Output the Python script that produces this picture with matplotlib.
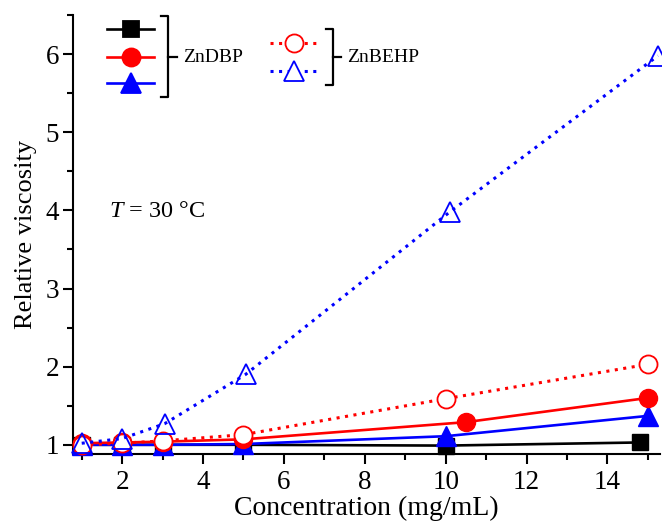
import matplotlib
matplotlib.use('Agg')
import matplotlib.pyplot as plt
from matplotlib.lines import Line2D
from matplotlib.ticker import MultipleLocator

plt.rcParams['font.family'] = ['Liberation Serif', 'DejaVu Serif']
plt.rcParams['mathtext.fontset'] = 'custom'
plt.rcParams['mathtext.it'] = 'Liberation Serif:italic'
plt.rcParams['mathtext.rm'] = 'Liberation Serif'

# ZnDBP series
dbp_sq_x = [1, 2, 3, 5, 10, 14.8]
dbp_sq_y = [1.00, 1.00, 1.00, 1.00, 0.99, 1.03]
dbp_ci_x = [1, 2, 3, 5, 10.5, 15]
dbp_ci_y = [1.02, 1.03, 1.04, 1.07, 1.29, 1.60]
dbp_tr_x = [1, 2, 3, 5, 10, 15]
dbp_tr_y = [1.00, 1.00, 1.00, 1.01, 1.11, 1.37]

# ZnBEHP series
behp_ci_x = [1, 2, 3, 5, 10, 15]
behp_ci_y = [1.00, 1.02, 1.05, 1.13, 1.59, 2.03]
behp_tr_x = [1, 2, 3.05, 5.05, 10.1, 15.25]
behp_tr_y = [1.02, 1.08, 1.27, 1.90, 3.98, 5.98]

fig = plt.figure(figsize=(6.62, 5.21), dpi=100)
ax = fig.add_axes([0.110, 0.129, 0.887, 0.842])

lw = 1.9
dot = (0, (1, 1.8))
ax.plot(dbp_sq_x, dbp_sq_y, color='black', lw=lw, marker='s', ms=11, mfc='black', mec='black', clip_on=False, zorder=3)
ax.plot(dbp_tr_x, dbp_tr_y, color='blue', lw=lw, marker='^', ms=14, mfc='blue', mec='blue', clip_on=False, zorder=3)
ax.plot(dbp_ci_x, dbp_ci_y, color='red', lw=lw, marker='o', ms=13, mfc='red', mec='red', clip_on=False, zorder=3)
ax.plot(behp_ci_x, behp_ci_y, color='red', lw=2.2, ls=dot, marker='o', ms=13, mfc='white', mec='red', mew=1.3, clip_on=False, zorder=4)
ax.plot(behp_tr_x, behp_tr_y, color='blue', lw=2.2, ls=dot, marker='^', ms=14, mfc='none', mec='blue', mew=1.3, clip_on=False, zorder=4)

ax.set_xlim(0.78, 15.3)
ax.set_ylim(0.885, 6.5)
ax.xaxis.set_major_locator(MultipleLocator(2))
ax.xaxis.set_minor_locator(MultipleLocator(1))
ax.yaxis.set_major_locator(MultipleLocator(1))
ax.yaxis.set_minor_locator(MultipleLocator(0.5))
ax.spines['top'].set_visible(False)
ax.spines['right'].set_visible(False)
for s in ('left', 'bottom'):
    ax.spines[s].set_linewidth(1.5)
ax.tick_params(which='major', direction='out', length=7, width=1.5, labelsize=19.5, pad=3)
ax.tick_params(axis='x', which='major', pad=5)
ax.tick_params(which='minor', direction='out', length=4, width=1.5)
ax.set_xlabel('Concentration (mg/mL)', fontsize=20, labelpad=0)
ax.set_ylabel('Relative viscosity', fontsize=19, labelpad=6)

ax.text(0.062, 0.553, r'$T$ = 30 °C', transform=ax.transAxes, fontsize=17.5, va='center')

# custom legend in figure pixels
W, H = 662, 521
def fx(x):
    return x / W
def fy(y):
    return 1 - y / H

def entry(x0, x1, y, color, ls, marker, ms, mfc):
    fig.add_artist(Line2D([fx(x0), fx(x1)], [fy(y), fy(y)], color=color, lw=2.2 if ls != '-' else lw, ls=ls))
    fig.add_artist(Line2D([fx((x0 + x1) / 2)], [fy(y)], marker=marker, ms=ms, mfc=mfc, mec=color, mew=1.3, ls='none'))

def bracket(x, y0, y1, xt):
    ym = (y0 + y1) / 2
    fig.add_artist(Line2D([fx(x - 7), fx(x), fx(x), fx(x - 7)], [fy(y0), fy(y0), fy(y1), fy(y1)], color='black', lw=1.6))
    fig.add_artist(Line2D([fx(x), fx(xt)], [fy(ym), fy(ym)], color='black', lw=1.6))

entry(107, 154, 29, 'black', '-', 's', 11, 'black')
entry(107, 154, 57, 'red', '-', 'o', 13, 'red')
entry(107, 154, 83, 'blue', '-', '^', 14, 'blue')
bracket(168, 16, 97, 177)
fig.text(fx(183), fy(57), 'ZnDBP', fontsize=14, va='center', ha='left')

entry(270, 317, 43, 'red', dot, 'o', 13, 'white')
entry(270, 317, 71, 'blue', dot, '^', 14, 'white')
bracket(333, 29, 85, 341)
fig.text(fx(347), fy(57), 'ZnBEHP', fontsize=14, va='center', ha='left')

fig.savefig('out.png', dpi=100)
